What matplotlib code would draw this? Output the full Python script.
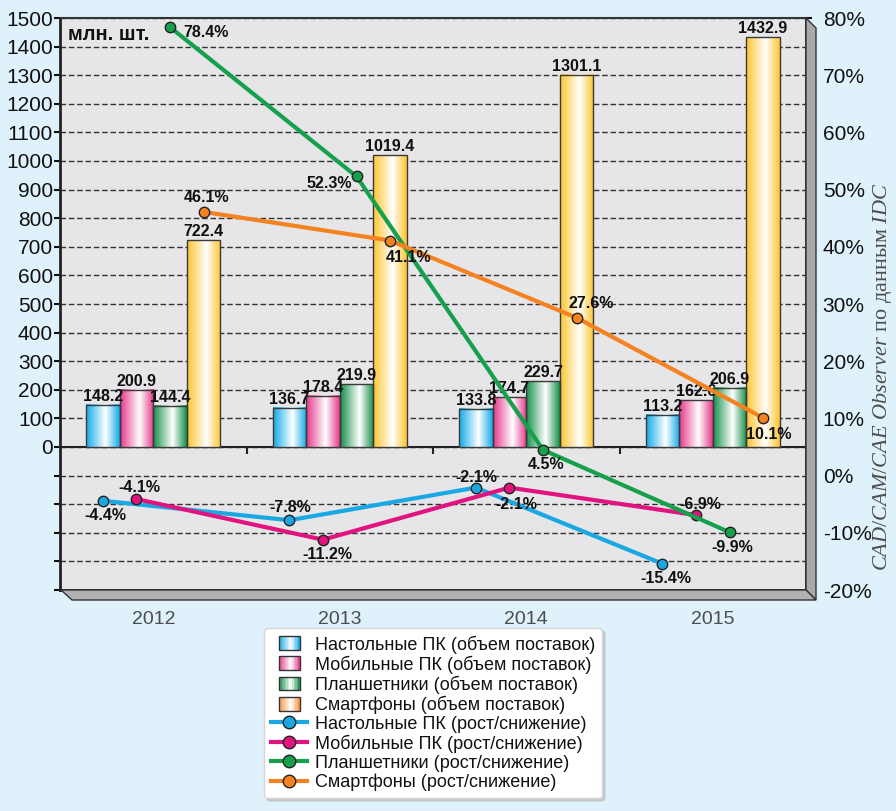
import numpy as np
import matplotlib.pyplot as plt
from matplotlib.colors import LinearSegmentedColormap
from matplotlib.patches import Polygon, Rectangle
from matplotlib.lines import Line2D
from matplotlib.legend_handler import HandlerBase

plt.rcParams['font.family'] = ['Liberation Sans', 'DejaVu Sans']
plt.rcParams['mathtext.fontset'] = 'custom'
plt.rcParams['mathtext.it'] = 'Liberation Serif:italic'
plt.rcParams['mathtext.rm'] = 'Liberation Serif'

# data
years = ['2012', '2013', '2014', '2015']
desktop_units = [148.2, 136.7, 133.8, 113.2]
mobile_units = [200.9, 178.4, 174.7, 162.6]
tablet_units = [144.4, 219.9, 229.7, 206.9]
phone_units = [722.4, 1019.4, 1301.1, 1432.9]
desktop_growth = [-4.4, -7.8, -2.1, -15.4]
mobile_growth = [-4.1, -11.2, -2.1, -6.9]
tablet_growth = [78.4, 52.3, 4.5, -9.9]
phone_growth = [46.1, 41.1, 27.6, 10.1]

bar_labels = ['Настольные ПК (объем поставок)', 'Мобильные ПК (объем поставок)',
              'Планшетники (объем поставок)', 'Смартфоны (объем поставок)']
line_labels = ['Настольные ПК (рост/снижение)', 'Мобильные ПК (рост/снижение)',
               'Планшетники (рост/снижение)', 'Смартфоны (рост/снижение)']

# styles
bar_colors = ['#12aae8', '#e6388b', '#15904a', '#fdc530']
legend_bar_colors = ['#12aae8', '#e6388b', '#15904a', '#f5923a']
line_colors = ['#1aa8e2', '#e0137f', '#17a04c', '#f58220']

# percent label centre offsets from the marker, in pixels (dx, dy up)
desktop_off = [(2, -15), (1, 13), (0, 10), (3, -15)]
mobile_off = [(3, 12), (4, -15), (7, -17), (4, 11)]
tablet_off = [(36, -5), (-27, -7), (3, -15), (3, -15)]
phone_off = [(3, 14), (18, -17), (15, 14), (6, -17)]

W, H = 896, 811


def px(x, y):
    return (x / W, 1 - y / H)


def grad_cmap(c):
    return LinearSegmentedColormap.from_list('g', [(0, c), (0.58, '#ffffff'), (1, c)])


fig = plt.figure(figsize=(W / 100, H / 100), dpi=100)
fig.patch.set_facecolor('#dff1fb')

# 3D side wall and floor
fig.patches.append(Polygon([px(806, 18), px(816, 28), px(816, 600), px(806, 590)],
                           closed=True, transform=fig.transFigure,
                           facecolor='#a9a9ab', edgecolor='#333333', lw=1, zorder=0))
fig.patches.append(Polygon([px(61, 590), px(806, 590), px(816, 600), px(72, 600)],
                           closed=True, transform=fig.transFigure,
                           facecolor='#b2b2b4', edgecolor='#333333', lw=1, zorder=0))

ax = fig.add_axes([60 / W, 1 - 590 / H, 746 / W, 572 / H])
ax.set_facecolor('#e6e6e8')
ax.set_axisbelow(True)

x = np.arange(len(years))
bw = 0.18
units = [desktop_units, mobile_units, tablet_units, phone_units]
growth = [desktop_growth, mobile_growth, tablet_growth, phone_growth]
offsets = [desktop_off, mobile_off, tablet_off, phone_off]

grad = np.linspace(0, 1, 64)[None, :]
for k, (vals, col) in enumerate(zip(units, bar_colors)):
    cm = grad_cmap(col)
    for xi, v in zip(x, vals):
        x0 = xi + (k - 2) * bw
        ax.imshow(grad, extent=[x0, x0 + bw, 0, v], cmap=cm, aspect='auto',
                  interpolation='bilinear', zorder=3)
        ax.add_patch(Rectangle((x0, 0), bw, v, fill=False, ec='#3a3a3a', lw=1, zorder=4))
        ax.annotate(f'{v:.1f}', (x0 + bw / 2, v), xytext=(0, 1), textcoords='offset pixels',
                    ha='center', va='bottom', fontsize=11.5, fontweight='bold',
                    color='#111111', zorder=5)

ax.set_xlim(-0.5, len(years) - 0.5)
ax.set_ylim(-500, 1500)
ax.set_yticks(np.arange(-500, 1501, 100))
ax.set_yticklabels([str(t) if t >= 0 else '' for t in range(-500, 1501, 100)])
ax.yaxis.grid(True, linestyle=(0, (4, 2)), color='#333333', lw=1)
ax.axhline(0, color='#222222', lw=1.5, zorder=2)
ax.vlines(x[:-1] + 0.5, -25, 0, color='#222222', lw=1.5, zorder=2)
ax.set_xticks(x)
ax.set_xticklabels(years, fontsize=14, color='#4d4d4d')
ax.tick_params(axis='x', length=0, pad=15)
ax.tick_params(axis='y', direction='out', length=4, width=1.5, labelsize=15, pad=1,
               colors='#111111')
for s in ['left', 'bottom']:
    ax.spines[s].set_linewidth(2)
    ax.spines[s].set_color('#222222')
ax.spines['top'].set_linewidth(1.5)
ax.spines['top'].set_color('#333333')
ax.spines['right'].set_visible(False)
ax.text(0.011, 0.988, 'млн. шт.', transform=ax.transAxes, ha='left', va='top',
        fontsize=14.5, fontweight='bold', color='#111111')

ax2 = ax.twinx()
ax2.set_ylim(-20, 80)
ax2.set_yticks(np.arange(-20, 81, 10))
ax2.set_yticklabels([f'{t}%' for t in range(-20, 81, 10)])
ax2.tick_params(axis='y', direction='out', length=4, width=1.5, labelsize=15, pad=8,
                colors='#111111')
ax2.spines['right'].set_linewidth(2)
ax2.spines['right'].set_color('#222222')
for s in ['left', 'top', 'bottom']:
    ax2.spines[s].set_visible(False)

for k, (vals, col, offs) in enumerate(zip(growth, line_colors, offsets)):
    xs = x + (k - 1.5) * bw
    ax2.plot(xs, vals, color=col, lw=3, marker='o', ms=7.5, mfc=col, mec='#222222',
             mew=1, zorder=5)
    for xi, v, (dx, dy) in zip(xs, vals, offs):
        ax2.annotate(f'{v:.1f}%', (xi, v), xytext=(dx, dy), textcoords='offset pixels',
                     ha='center', va='center', fontsize=11.5, fontweight='bold',
                     color='#111111', zorder=6)


class GradientHandler(HandlerBase):
    def __init__(self, color):
        super().__init__()
        self.color = color

    def create_artists(self, legend, orig_handle, xdescent, ydescent, width, height,
                       fontsize, trans):
        cm = grad_cmap(self.color)
        w = width * 0.58
        h = height * 1.1
        x0 = -xdescent + (width - w) / 2
        y0 = -ydescent + (height - h) / 2
        n = 14
        arts = []
        for i in range(n):
            r = Rectangle((x0 + i * w / n, y0), w / n + 0.3, h,
                          facecolor=cm((i + 0.5) / n), edgecolor='none', transform=trans)
            arts.append(r)
        arts.append(Rectangle((x0, y0), w, h, fill=False, edgecolor='#333333', lw=1,
                              transform=trans))
        return arts


bar_handles = [Rectangle((0, 0), 1, 1, color=c) for c in legend_bar_colors]
line_handles = [Line2D([], [], color=c, lw=3, marker='o', ms=9, mfc=c, mec='#222222', mew=1)
                for c in line_colors]
hmap = {h: GradientHandler(c) for h, c in zip(bar_handles, legend_bar_colors)}
leg = fig.legend(bar_handles + line_handles, bar_labels + line_labels,
                 handler_map=hmap, loc='upper center', bbox_to_anchor=px(433, 628),
                 bbox_transform=fig.transFigure, fontsize=13, labelspacing=0.1,
                 handlelength=2.0, handletextpad=0.4, borderpad=0.4, borderaxespad=0,
                 fancybox=True, framealpha=1, edgecolor='#d6d6d6',
                 shadow={'color': '#c0c0c0', 'alpha': 0.8})
for t in leg.get_texts():
    t.set_color('#111111')

fig.text(882 / W, 1 - 377 / H, r'$\mathit{CAD/CAM/CAE\ Observer}$ по данным $\mathit{IDC}$',
         rotation=90, ha='center', va='center', fontsize=16, color='#4d4d4d',
         family='Liberation Serif')

fig.savefig('out.png', dpi=100, facecolor=fig.get_facecolor())
